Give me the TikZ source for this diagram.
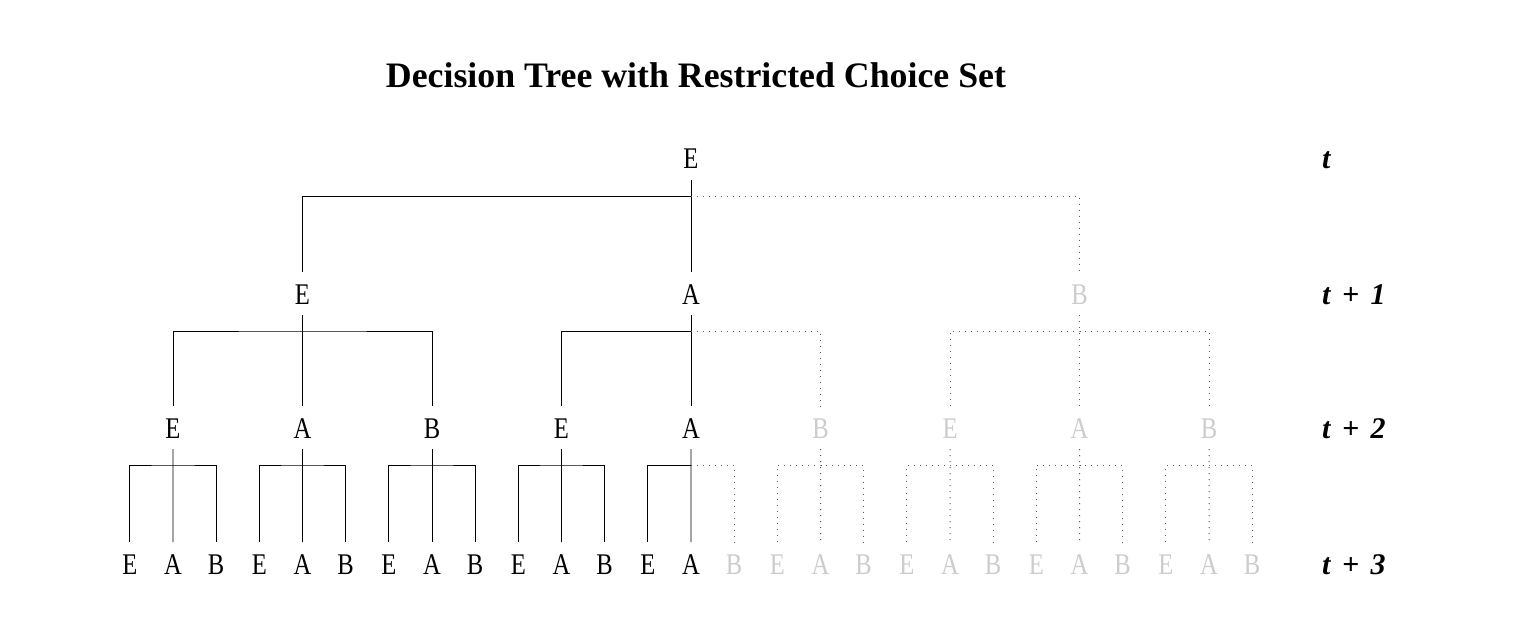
\documentclass[tikz,border=0pt]{standalone}
\usepackage{fontspec}
\setmainfont{Liberation Serif}
\newfontfamily\nodefont[FakeStretch=0.82]{Liberation Serif}
\newcommand\myfork[5]{% style, parent, left, mid, right
  \draw[#1] ([yshift=-11bp]#2.south) -- ([yshift=12bp]#4.north);
  \draw[#1] ([yshift=12bp]#3.north) |- ([yshift=-27bp]#2.south) -| ([yshift=12bp]#5.north);
}
\newcommand\myhalf[4]{% parent, left, mid, right
  \draw[solidline] ([yshift=-11bp]#1.south) -- ([yshift=12bp]#3.north);
  \draw[solidline] ([yshift=12bp]#2.north) |- ([yshift=-27bp]#1.south);
  \draw[dotline] ([yshift=-27bp]#1.south) -| ([yshift=12bp]#4.north);
}
\newcommand\lsp{\hspace{11.5bp}}
\tikzset{
  lvl/.style={anchor=base, inner sep=0pt, outer sep=0pt, text height=20bp, text depth=0pt,
    font=\nodefont\fontsize{30bp}{36bp}\selectfont},
  on/.style={lvl, text=black},
  off/.style={lvl, text=black!20},
  solidline/.style={line width=0.9bp, draw=black},
  dotline/.style={line width=1bp, draw=black!65, dash pattern=on 1bp off 5bp},
  lab/.style={anchor=base west, inner sep=0pt, font=\fontsize{30bp}{36bp}\selectfont\bfseries\itshape},
  ttl/.style={anchor=base, inner sep=0pt, font=\fontsize{35.8bp}{42bp}\selectfont\bfseries},
}
\begin{document}
\begin{tikzpicture}[x=1bp,y=-1bp]
\useasboundingbox (0,0) rectangle (1529,638);
\node[ttl] (title) at (696,88) {Decision Tree with Restricted Choice Set};
% level t
\node[on] (r) at (691,169) {E};
% level t+1
\node[on] (n1a) at (302.5,304) {E};
\node[on] (n1b) at (691,304) {A};
\node[off] (n1c) at (1079.5,304) {B};
% level t+2
\foreach \i/\t in {0/E,1/A,2/B,3/E,4/A,5/B,6/E,7/A,8/B} {
  \pgfmathsetmacro\xx{173+129.5*\i}
  \ifnum\i<5 \def\st{on}\else\def\st{off}\fi
  \node[\st] (n2-\i) at (\xx,438) {\t};
}
% level t+3
\foreach \j [evaluate=\j as \k using {int(mod(\j,3))}] in {0,...,26} {
  \pgfmathsetmacro\xx{129.8333+43.16667*\j}
  \ifnum\j<14 \def\st{on}\else\def\st{off}\fi
  \node[\st] (n3-\j) at (\xx,574) {\ifcase\k E\or A\or B\fi};
}
% time labels
\node[lab] (lt0) at (1322,169) {t};
\node[lab] (lt1) at (1322,304) {t\lsp+\lsp1};
\node[lab] (lt2) at (1322,438) {t\lsp+\lsp2};
\node[lab] (lt3) at (1322,574) {t\lsp+\lsp3};
% connectors
\myhalf{r}{n1a}{n1b}{n1c}
\myfork{solidline}{n1a}{n2-0}{n2-1}{n2-2}
\myhalf{n1b}{n2-3}{n2-4}{n2-5}
\myfork{dotline}{n1c}{n2-6}{n2-7}{n2-8}
\foreach \i in {0,1,2,3} {
  \pgfmathtruncatemacro\a{3*\i}
  \pgfmathtruncatemacro\b{3*\i+1}
  \pgfmathtruncatemacro\c{3*\i+2}
  \myfork{solidline}{n2-\i}{n3-\a}{n3-\b}{n3-\c}
}
\myhalf{n2-4}{n3-12}{n3-13}{n3-14}
\foreach \i in {5,6,7,8} {
  \pgfmathtruncatemacro\a{3*\i}
  \pgfmathtruncatemacro\b{3*\i+1}
  \pgfmathtruncatemacro\c{3*\i+2}
  \myfork{dotline}{n2-\i}{n3-\a}{n3-\b}{n3-\c}
}
\end{tikzpicture}
\end{document}
